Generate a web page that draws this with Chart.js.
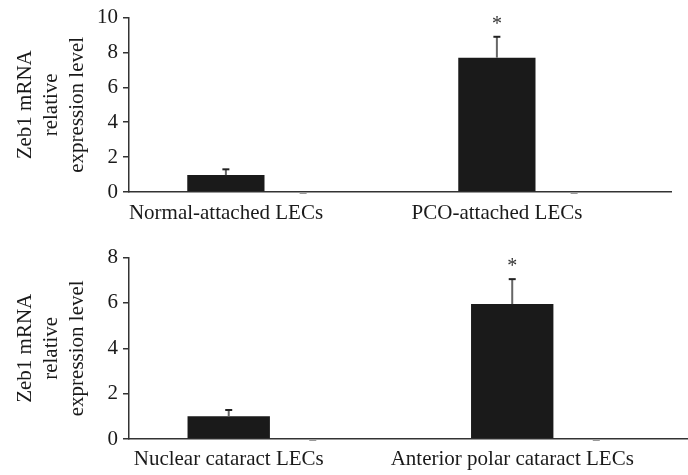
<!DOCTYPE html>
<html>
<head>
<meta charset="utf-8">
<script src="https://cdn.jsdelivr.net/npm/chart.js@4.4.1/dist/chart.umd.min.js"></script>
<style>
  html, body { margin: 0; padding: 0; background: #fff; overflow: hidden; width: 688px; height: 475px; }
  .panel { position: absolute; left: 0; }
  #topWrap { top: 0; width: 688px; height: 240px; }
  #bottomWrap { top: 240px; width: 720px; height: 235px; }
</style>
</head>
<body>
<div id="topWrap" class="panel"><canvas id="topChart" width="688" height="240"></canvas></div>
<div id="bottomWrap" class="panel"><canvas id="bottomChart" width="720" height="235"></canvas></div>
<script>
// Zeb1 mRNA, attached LECs
const topCategories = ['Normal-attached LECs', 'PCO-attached LECs'];
const topMeans = [0.97, 7.7];
const topErrors = [0.33, 1.2];
const topControlMeans = [0, 0];
const topControlErrors = [0, 0];
const topMarks = ['', '*'];
const topTicks = [0, 2, 4, 6, 8, 10];

// Zeb1 mRNA, cataract LECs
const bottomCategories = ['Nuclear cataract LECs', 'Anterior polar cataract LECs'];
const bottomMeans = [1.0, 5.95];
const bottomErrors = [0.28, 1.1];
const bottomControlMeans = [0, 0];
const bottomControlErrors = [0, 0];
const bottomMarks = ['', '*'];
const bottomTicks = [0, 2, 4, 6, 8];

const yTitle = ['Zeb1 mRNA', 'relative', 'expression level'];
const SERIF = '"Liberation Serif", "DejaVu Serif", serif';

// Draws the upper error whisker and significance mark over each bar
const errorBars = {
  id: 'errorBars',
  afterDatasetsDraw(chart) {
    const ctx = chart.ctx;
    const y = chart.scales.y;
    chart.data.datasets.forEach((ds, di) => {
      const meta = chart.getDatasetMeta(di);
      meta.data.forEach((bar, i) => {
        const mean = ds.data[i];
        const err = ds.errors[i];
        const yBase = y.getPixelForValue(mean);
        const yTop = y.getPixelForValue(mean + err);
        ctx.save();
        if (err > 0) {
          ctx.strokeStyle = '#666';
          ctx.lineWidth = 2;
          ctx.beginPath();
          ctx.moveTo(bar.x, yBase);
          ctx.lineTo(bar.x, yTop);
          ctx.stroke();
        }
        ctx.strokeStyle = ds.capColor;
        ctx.lineWidth = 2;
        ctx.beginPath();
        ctx.moveTo(bar.x - 3.5, yTop + (err > 0 ? 0 : 1));
        ctx.lineTo(bar.x + 3.5, yTop + (err > 0 ? 0 : 1));
        ctx.stroke();
        const mark = ds.marks ? ds.marks[i] : '';
        if (mark) {
          ctx.fillStyle = '#333';
          ctx.font = '20px ' + SERIF;
          ctx.textAlign = 'center';
          ctx.textBaseline = 'middle';
          ctx.fillText(mark, bar.x, yTop - 12);
        }
        ctx.restore();
      });
    });
  }
};

function makeChart(id, cats, means, errs, ctrlMeans, ctrlErrs, marks, ticks, cfg) {
  return new Chart(document.getElementById(id), {
    type: 'bar',
    data: {
      labels: cats,
      datasets: [
        { data: means, errors: errs, marks: marks, capColor: '#222', backgroundColor: '#1a1a1a',
          categoryPercentage: cfg.catPct, barPercentage: cfg.barPct },
        { data: ctrlMeans, errors: ctrlErrs, capColor: '#9a9a9a', backgroundColor: 'rgba(0,0,0,0)',
          categoryPercentage: cfg.catPct, barPercentage: cfg.barPct }
      ]
    },
    options: {
      responsive: false,
      animation: false,
      events: [],
      layout: { padding: { top: cfg.padTop, right: cfg.padRight, left: 0, bottom: 0 } },
      plugins: { legend: { display: false }, tooltip: { enabled: false } },
      scales: {
        x: {
          grid: { display: false },
          border: { display: true, color: '#333', width: 1.5 },
          ticks: { color: '#1a1a1a', font: { family: SERIF, size: 21 }, padding: cfg.xPad,
                   labelOffset: cfg.labelShift, maxRotation: 0, autoSkip: false },
          afterFit(s) { s.height = cfg.xHeight; }
        },
        y: {
          min: ticks[0], max: ticks[ticks.length - 1],
          afterBuildTicks(s) { s.ticks = ticks.map(v => ({ value: v })); },
          grid: { display: true, drawOnChartArea: false, drawTicks: true, tickLength: 6, color: '#333', lineWidth: 1.5 },
          border: { display: true, color: '#333', width: 1.5 },
          ticks: { color: '#1a1a1a', font: { family: SERIF, size: 21 }, padding: 5 },
          title: { display: true, text: yTitle, color: '#1a1a1a',
                   font: { family: SERIF, size: 21, lineHeight: 1.25 }, padding: { top: 12, bottom: 0 } },
          afterFit(s) { s.width = 129; }
        }
      }
    },
    plugins: [errorBars]
  });
}

makeChart('topChart', topCategories, topMeans, topErrors, topControlMeans, topControlErrors, topMarks, topTicks,
  { catPct: 0.57, barPct: 1.0, padTop: 14, padRight: 17, xHeight: 48, xPad: 1, labelShift: -38.5 });
makeChart('bottomChart', bottomCategories, bottomMeans, bottomErrors, bottomControlMeans, bottomControlErrors, bottomMarks, bottomTicks,
  { catPct: 0.593, barPct: 0.98, padTop: 16, padRight: 24, xHeight: 36, xPad: 0, labelShift: -42 });
</script>
</body>
</html>
